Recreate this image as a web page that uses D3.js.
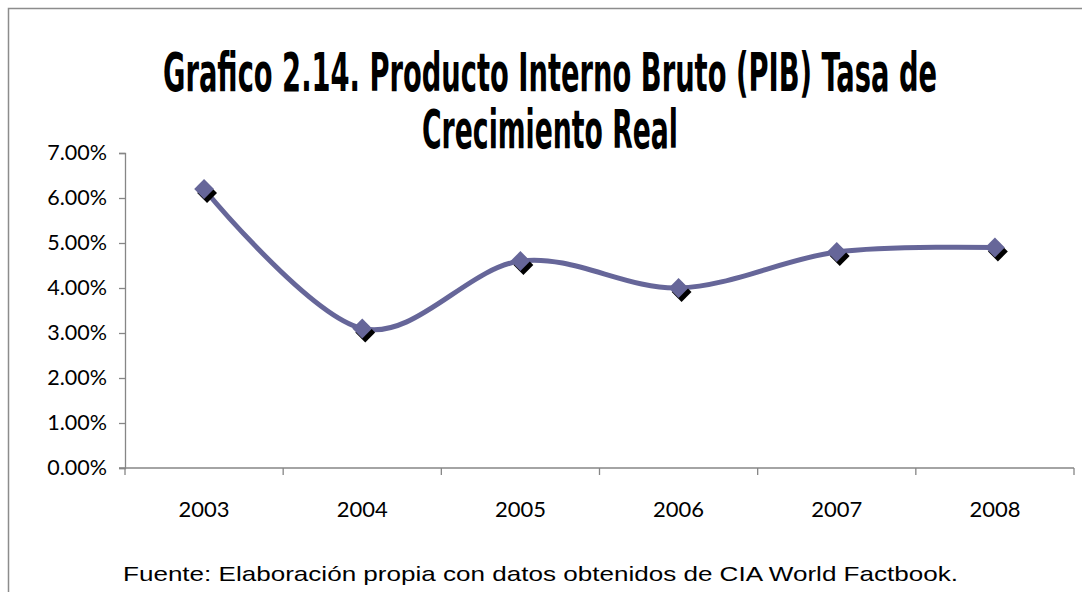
<!DOCTYPE html>
<html>
<head>
<meta charset="utf-8">
<script src="https://cdn.jsdelivr.net/npm/d3@7"></script>
<style>
  body { margin: 0; background: #fff; }
  svg { display: block; }
</style>
</head>
<body>
<svg width="1082" height="592"></svg>
<script>
// datos del grafico
var years = ["2003", "2004", "2005", "2006", "2007", "2008"];
var growth = [6.2, 3.1, 4.6, 4.0, 4.8, 4.9];
var yTicks = [0, 1, 2, 3, 4, 5, 6, 7];
var titleLines = ["Grafico 2.14. Producto Interno Bruto (PIB) Tasa de", "Crecimiento Real"];
var sourceNote = "Fuente: Elaboración propia con datos obtenidos de CIA World Factbook.";

function drawChart() {
    var svg = d3.select("svg");
    var lineColor = "#666699";
    var axisColor = "#868686";

    // marco exterior
    svg.append("rect")
        .attr("x", 8.5).attr("y", 8.5)
        .attr("width", 1200).attr("height", 700)
        .attr("fill", "none")
        .attr("stroke", "#8c8c8c")
        .attr("stroke-width", 1.5);

    var x = d3.scaleBand().domain(years).range([125, 1074]);
    var y = d3.scaleLinear().domain([0, 7]).range([468, 153]);

    // titulo (fuente estrecha estirada en vertical)
    svg.selectAll("g.title")
        .data(titleLines)
        .enter().append("g")
        .attr("class", "title")
        .attr("transform", function (d, i) { return "translate(550," + (91 + i * 57) + ") scale(1,1.5)"; })
        .append("text")
        .attr("text-anchor", "middle")
        .attr("textLength", function (d, i) { return i === 0 ? 774 : 256; })
        .attr("lengthAdjust", "spacingAndGlyphs")
        .style("font-family", "'Liberation Sans Narrow', 'DejaVu Sans Condensed', sans-serif")
        .style("font-weight", "bold")
        .style("font-size", "36px")
        .style("fill", "#000")
        .text(function (d) { return d; });

    // eje y
    var yAxis = d3.axisLeft(y)
        .tickValues(yTicks)
        .tickSize(6)
        .tickPadding(12)
        .tickFormat(function (d) { return d.toFixed(2) + "%"; });

    var gy = svg.append("g")
        .attr("transform", "translate(125,0)")
        .call(yAxis);
    gy.select(".domain").attr("stroke", axisColor).attr("stroke-width", 1.3);
    gy.selectAll(".tick line").attr("stroke", axisColor).attr("stroke-width", 1.3);
    gy.selectAll(".tick text")
        .style("font-family", "Lato, 'Open Sans', sans-serif")
        .style("font-size", "21.5px")
        .style("fill", "#000");

    // eje x, marcas entre categorias
    var gx = svg.append("g").attr("transform", "translate(0,468)");
    gx.append("line")
        .attr("x1", 119).attr("x2", x.range()[1])
        .attr("stroke", axisColor).attr("stroke-width", 1.3);
    var bounds = years.map(function (d) { return x(d); }).concat([x.range()[1]]);
    gx.selectAll("line.tick")
        .data(bounds)
        .enter().append("line")
        .attr("class", "tick")
        .attr("x1", function (d) { return d; })
        .attr("x2", function (d) { return d; })
        .attr("y1", 0).attr("y2", 7)
        .attr("stroke", axisColor).attr("stroke-width", 1.3);
    gx.selectAll("text")
        .data(years)
        .enter().append("text")
        .attr("x", function (d) { return x(d) + x.bandwidth() / 2; })
        .attr("y", 49)
        .attr("text-anchor", "middle")
        .style("font-family", "Lato, 'Open Sans', sans-serif")
        .style("font-size", "22px")
        .style("fill", "#000")
        .text(function (d) { return d; });

    // linea suavizada
    var line = d3.line()
        .x(function (d, i) { return x(years[i]) + x.bandwidth() / 2; })
        .y(function (d) { return y(d); })
        .curve(d3.curveCardinal.tension(0));

    svg.append("path")
        .datum(growth)
        .attr("d", line)
        .attr("fill", "none")
        .attr("stroke", lineColor)
        .attr("stroke-width", 5)
        .attr("stroke-linejoin", "round");

    // marcadores con sombra
    var pts = svg.selectAll("g.pt")
        .data(growth)
        .enter().append("g")
        .attr("class", "pt")
        .attr("transform", function (d, i) {
            return "translate(" + (x(years[i]) + x.bandwidth() / 2) + "," + y(d) + ")";
        });
    pts.append("rect")
        .attr("x", -7).attr("y", -7).attr("width", 14).attr("height", 14)
        .attr("transform", "translate(3,4) rotate(45)")
        .attr("fill", "#000");
    pts.append("rect")
        .attr("x", -7).attr("y", -7).attr("width", 14).attr("height", 14)
        .attr("transform", "rotate(45)")
        .attr("fill", lineColor);

    // fuente
    svg.append("text")
        .attr("x", 123)
        .attr("y", 581)
        .attr("textLength", 835)
        .attr("lengthAdjust", "spacingAndGlyphs")
        .style("font-family", "'Liberation Sans', Arial, sans-serif")
        .style("font-size", "21px")
        .style("fill", "#000")
        .text(sourceNote);
}

drawChart();
</script>
</body>
</html>
